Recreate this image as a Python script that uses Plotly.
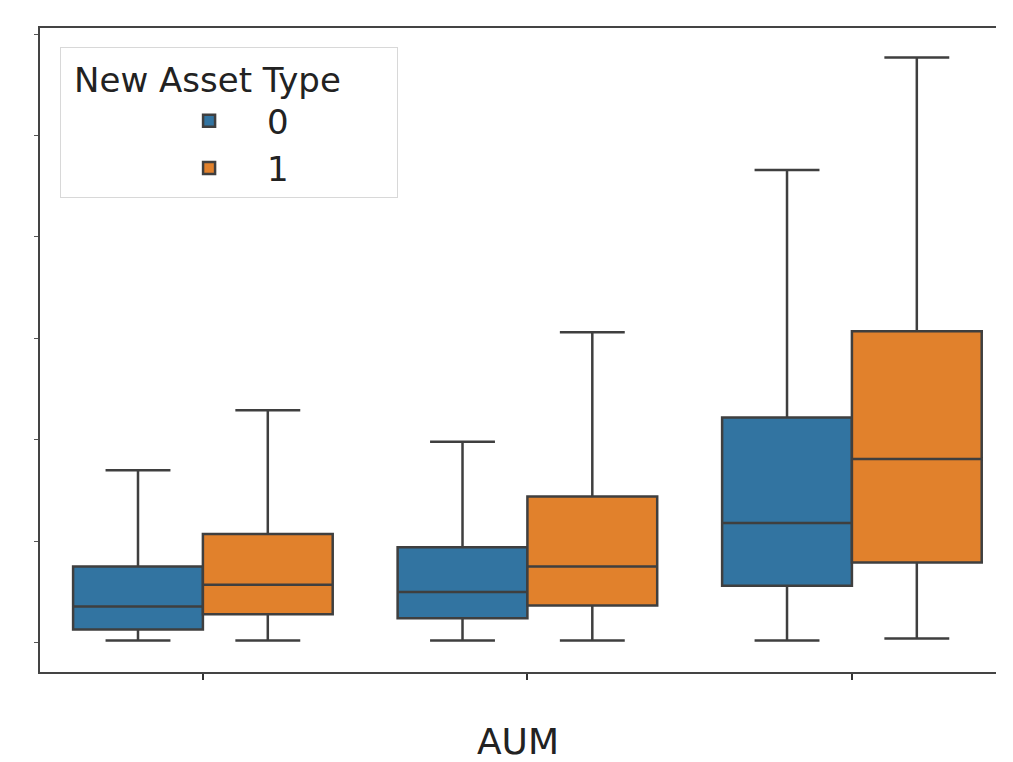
import plotly.graph_objects as go

categories = ["Low", "Medium", "High"]
hue_names = ["0", "1"]

# box statistics per hue (arbitrary units)
lower_0 = [0.02, 0.02, 0.02]
q1_0 = [0.13, 0.24, 0.56]
median_0 = [0.355, 0.50, 1.18]
q3_0 = [0.75, 0.94, 2.22]
upper_0 = [1.70, 1.98, 4.66]

lower_1 = [0.02, 0.02, 0.04]
q1_1 = [0.28, 0.365, 0.79]
median_1 = [0.57, 0.75, 1.81]
q3_1 = [1.07, 1.44, 3.07]
upper_1 = [2.29, 3.06, 5.77]

y_ticks = [0, 1, 2, 3, 4, 5, 6]

colors = ["#3274a1", "#e1812c"]
edge = "#3f3f3f"

fig = go.Figure()
stats = [
    (lower_0, q1_0, median_0, q3_0, upper_0),
    (lower_1, q1_1, median_1, q3_1, upper_1),
]
for name, color, (lo, q1, med, q3, up) in zip(hue_names, colors, stats):
    fig.add_trace(go.Box(
        name=name,
        x=categories,
        lowerfence=lo, q1=q1, median=med, q3=q3, upperfence=up,
        fillcolor=color,
        line=dict(color=edge, width=2.5),
        whiskerwidth=0.5,
        boxpoints=False,
    ))

nb = "\u00a0"
fig.update_layout(
    width=1005, height=754,
    margin=dict(l=32, r=17, t=20, b=90, autoexpand=False),
    paper_bgcolor="white", plot_bgcolor="white",
    boxmode="group", boxgap=0.2, boxgroupgap=0,
    font=dict(family="DejaVu Sans", size=30, color="#222"),
    legend=dict(
        title=dict(text=nb + "New Asset Type" + nb * 5, side="top center",
                   font=dict(size=34, family="DejaVu Sans", color="#222")),
        font=dict(size=34, family="DejaVu Sans", color="#222"),
        x=0.021, y=0.9705, xanchor="left", yanchor="top",
        bordercolor="#d8d8d8", borderwidth=1, bgcolor="white",
        itemwidth=106, indentation=90,
    ),
    showlegend=True,
)
fig.update_xaxes(
    range=[-0.502, 2.444],
    showticklabels=False,
    ticks="outside", ticklen=6, tickwidth=1.5, tickcolor="#333",
    showline=True, linecolor="#444", linewidth=1.5, mirror=True,
    showgrid=False, zeroline=False,
    title=dict(text="AUM", standoff=55, font=dict(size=36, family="DejaVu Sans", color="#222")),
    automargin=False,
)
fig.update_yaxes(
    range=[-0.29, 6.06],
    tickvals=y_ticks,
    showticklabels=False,
    ticks="outside", ticklen=4, tickwidth=1, tickcolor="#555",
    showline=True, linecolor="#444", linewidth=1.5, mirror=False,
    showgrid=False, zeroline=False,
    automargin=False,
)

fig.write_html("out.html")
